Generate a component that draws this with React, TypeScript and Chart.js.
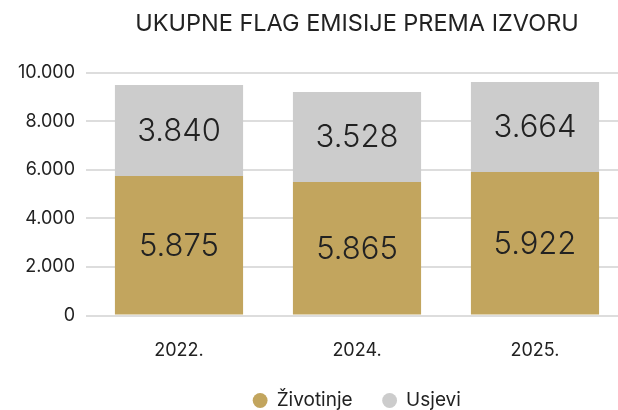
import React, { useEffect, useRef } from "react";
import { Chart, registerables } from "chart.js";

Chart.register(...registerables);

const categories = ["2022.", "2024.", "2025."];
// bar heights as drawn in the reference
const zivotinje = [5740, 5495, 5905];
const usjevi = [3745, 3705, 3705];
// numbers printed on the bars
const zivotinjeLabels = ["5.875", "5.865", "5.922"];
const usjeviLabels = ["3.840", "3.528", "3.664"];
const yTicks = [0, 2000, 4000, 6000, 8000, 10000];

const FONT = "Inter, 'Noto Sans', sans-serif";
const TEXT = "#222222";

const fmt = (v: number) => String(v).replace(/\B(?=(\d{3})+(?!\d))/g, ".");

const labelPlugin = {
  id: "barLabels",
  afterDatasetsDraw(chart: any) {
    const ctx = chart.ctx;
    const texts = [zivotinjeLabels, usjeviLabels];
    ctx.save();
    ctx.font = `300 31px ${FONT}`;
    ctx.fillStyle = TEXT;
    ctx.textAlign = "center";
    ctx.textBaseline = "middle";
    chart.data.datasets.forEach((_: any, di: number) => {
      const meta = chart.getDatasetMeta(di);
      meta.data.forEach((el: any, i: number) => {
        const p = el.getCenterPoint();
        ctx.fillText(texts[di][i], p.x, p.y + 1);
      });
    });
    ctx.restore();
  },
};

export default function App() {
  const ref = useRef<HTMLCanvasElement>(null);
  useEffect(() => {
    if (!ref.current) return;
    const chart = new Chart(ref.current, {
      type: "bar",
      data: {
        labels: categories,
        datasets: [
          { label: "Životinje", data: zivotinje, backgroundColor: "#C2A55E", borderWidth: 0 },
          { label: "Usjevi", data: usjevi, backgroundColor: "#CCCCCC", borderWidth: 0 },
        ],
      },
      options: {
        animation: false,
        responsive: true,
        maintainAspectRatio: false,
        layout: { padding: { left: 0, right: 0, top: 10, bottom: 0 } },
        plugins: {
          title: {
            display: true,
            text: "UKUPNE FLAG EMISIJE PREMA IZVORU",
            fullSize: false,
            color: TEXT,
            font: { family: FONT, size: 23.5, weight: "normal" },
            padding: { top: 0, bottom: 34.3 },
          },
          legend: {
            position: "bottom",
            fullSize: false,
            labels: {
              usePointStyle: true,
              pointStyle: "circle",
              boxWidth: 14,
              boxHeight: 10.5,
              color: TEXT,
              font: { family: FONT, size: 19 },
              padding: 30,
            },
          },
          tooltip: { enabled: false },
        },
        scales: {
          x: {
            stacked: true,
            grid: { display: false },
            border: { display: false },
            afterFit: (s: any) => { s.height = 45.5; },
            ticks: { color: TEXT, font: { family: FONT, size: 18 }, padding: 16 },
          },
          y: {
            stacked: true,
            min: 0,
            max: 10000,
            afterFit: (s: any) => { s.width = 90; },
            afterBuildTicks: (s: any) => { s.ticks = yTicks.map((v) => ({ value: v })); },
            grid: { color: "#DDDDDD", lineWidth: 2, drawTicks: true, tickLength: 4 },
            border: { display: false },
            ticks: {
              color: TEXT,
              font: { family: FONT, size: 18 },
              padding: 11,
              callback: (v: any) => fmt(Number(v)),
            },
          },
        },
      },
      plugins: [labelPlugin],
    });
    return () => chart.destroy();
  }, []);
  return (
    <div style={{ position: "absolute", left: 0, top: 0, width: 618, height: 410, overflow: "hidden" }}>
      <div style={{ position: "relative", width: 624, height: 420 }}>
        <canvas ref={ref} />
      </div>
    </div>
  );
}
